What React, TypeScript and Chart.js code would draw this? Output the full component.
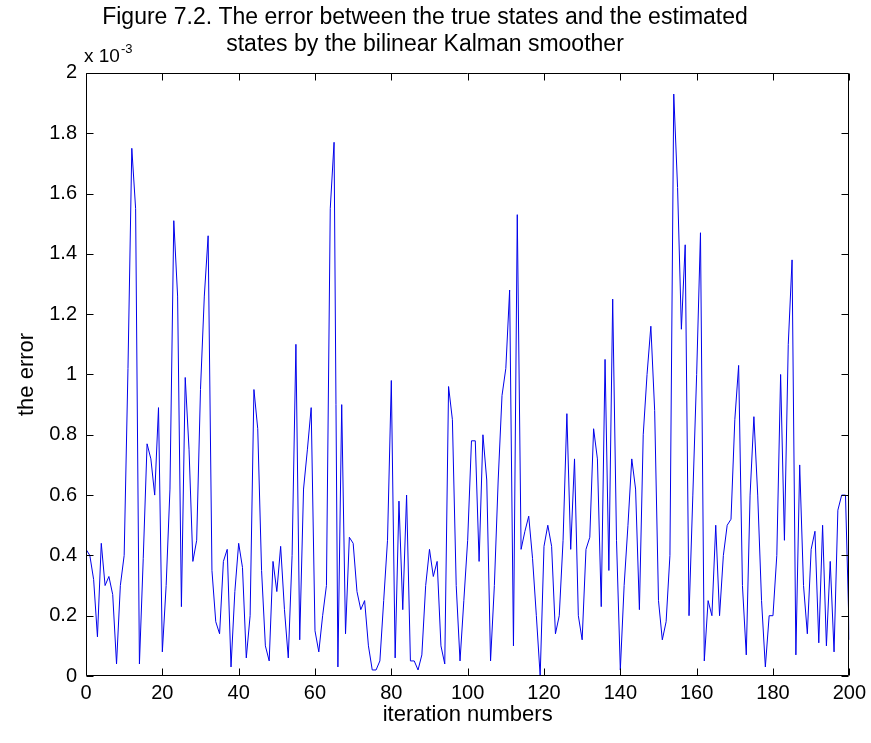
import React, { useEffect, useRef } from "react";
import { Chart, registerables } from "chart.js";

Chart.register(...registerables);

// Error values in units of 1e-3, one per iteration 0..200
const errorValues: number[] = [
  0.42, 0.40, 0.32, 0.13, 0.44, 0.30, 0.33, 0.27, 0.04, 0.30,
  0.40, 1.02, 1.75, 1.55, 0.04, 0.39, 0.77, 0.72, 0.60, 0.89,
  0.08, 0.30, 0.62, 1.51, 1.26, 0.23, 0.99, 0.75, 0.38, 0.45,
  0.95, 1.26, 1.46, 0.35, 0.18, 0.14, 0.38, 0.42, 0.03, 0.28,
  0.44, 0.36, 0.06, 0.20, 0.95, 0.82, 0.35, 0.10, 0.05, 0.38,
  0.28, 0.43, 0.22, 0.06, 0.40, 1.10, 0.12, 0.62, 0.75, 0.89,
  0.15, 0.08, 0.20, 0.30, 1.55, 1.77, 0.03, 0.90, 0.14, 0.46,
  0.44, 0.28, 0.22, 0.25, 0.10, 0.02, 0.02, 0.05, 0.25, 0.45,
  0.98, 0.06, 0.58, 0.22, 0.60, 0.05, 0.05, 0.02, 0.07, 0.30,
  0.42, 0.33, 0.38, 0.10, 0.04, 0.96, 0.85, 0.30, 0.05, 0.25,
  0.45, 0.78, 0.78, 0.38, 0.80, 0.65, 0.05, 0.30, 0.65, 0.93,
  1.02, 1.28, 0.10, 1.53, 0.42, 0.48, 0.53, 0.39, 0.20, 0.00,
  0.43, 0.50, 0.43, 0.14, 0.20, 0.45, 0.87, 0.42, 0.72, 0.20,
  0.12, 0.42, 0.46, 0.82, 0.72, 0.23, 1.05, 0.35, 1.25, 0.45,
  0.02, 0.30, 0.50, 0.72, 0.62, 0.22, 0.80, 1.00, 1.16, 0.88,
  0.25, 0.12, 0.18, 0.40, 1.93, 1.62, 1.15, 1.43, 0.20, 0.60,
  1.00, 1.47, 0.05, 0.25, 0.20, 0.50, 0.20, 0.40, 0.50, 0.52,
  0.85, 1.03, 0.30, 0.07, 0.60, 0.86, 0.60, 0.25, 0.03, 0.20,
  0.20, 0.40, 1.00, 0.45, 1.10, 1.38, 0.07, 0.70, 0.30, 0.14,
  0.42, 0.48, 0.11, 0.50, 0.10, 0.38, 0.08, 0.55, 0.60, 0.60,
  0.12,
];

const xTicks: number[] = [0, 20, 40, 60, 80, 100, 120, 140, 160, 180, 200];
const yTicks: number[] = [0, 0.2, 0.4, 0.6, 0.8, 1, 1.2, 1.4, 1.6, 1.8, 2];

const titleLines: string[] = [
  "Figure 7.2. The error between the true states and the estimated",
  "states by the bilinear Kalman smoother",
];
const xLabel = "iteration numbers";
const yLabel = "the error";
const exponentBase = "x 10";
const exponentPower = "-3";

const FONT = '"Liberation Sans", Arial, Helvetica, sans-serif';

const boxPlugin = {
  id: "matlabBox",
  afterDatasetsDraw(chart: any) {
    const { ctx, chartArea, scales } = chart;
    const xs = scales.x;
    const ys = scales.y;
    const L = Math.round(chartArea.left) + 0.5;
    const R = Math.round(chartArea.right) - 0.5;
    const T = Math.round(chartArea.top) + 0.5;
    const B = Math.round(chartArea.bottom) - 0.5;
    const len = 7;
    ctx.save();
    ctx.strokeStyle = "#000";
    ctx.lineWidth = 1;
    ctx.beginPath();
    ctx.rect(L, T, R - L, B - T);
    xTicks.forEach((v) => {
      const px = Math.round(xs.getPixelForValue(v)) + 0.5;
      ctx.moveTo(px, B);
      ctx.lineTo(px, B - len);
      ctx.moveTo(px, T);
      ctx.lineTo(px, T + len);
    });
    yTicks.forEach((v) => {
      const py = Math.round(ys.getPixelForValue(v)) + 0.5;
      ctx.moveTo(L, py);
      ctx.lineTo(L + len, py);
      ctx.moveTo(R, py);
      ctx.lineTo(R - len, py);
    });
    ctx.stroke();

    ctx.fillStyle = "#000";
    ctx.textBaseline = "alphabetic";
    ctx.textAlign = "left";
    ctx.font = `19px ${FONT}`;
    const baseX = chartArea.left - 2;
    const baseY = chartArea.top - 11;
    ctx.fillText(exponentBase, baseX, baseY);
    const w = ctx.measureText(exponentBase).width;
    ctx.font = `13px ${FONT}`;
    ctx.fillText(exponentPower, baseX + w + 1, baseY - 9);
    ctx.restore();
  },
};

export default function App() {
  const canvasRef = useRef<HTMLCanvasElement | null>(null);

  useEffect(() => {
    document.body.style.margin = "0";
    document.body.style.background = "#ffffff";
    const canvas = canvasRef.current;
    if (!canvas) return;
    const points = errorValues.map((v, i) => ({ x: i, y: v }));
    const chart = new Chart(canvas, {
      type: "line",
      data: {
        datasets: [
          {
            data: points,
            borderColor: "rgb(0,0,235)",
            borderWidth: 1,
            pointRadius: 0,
            tension: 0,
            fill: false,
          },
        ],
      },
      options: {
        responsive: false,
        animation: false,
        devicePixelRatio: 1,
        layout: { padding: { left: 0, right: 21, top: 0, bottom: 0 } },
        plugins: {
          legend: { display: false },
          tooltip: { enabled: false },
          title: {
            display: true,
            text: titleLines,
            color: "#000",
            font: { family: FONT, size: 23, weight: "normal", lineHeight: 1.14 },
            padding: { top: 5, bottom: 15.5 },
          },
        },
        scales: {
          x: {
            type: "linear",
            min: 0,
            max: 200,
            afterBuildTicks: (scale: any) => {
              scale.ticks = xTicks.map((v) => ({ value: v }));
            },
            afterFit: (scale: any) => {
              scale.height = 67;
            },
            grid: { display: false, drawTicks: false },
            border: { display: false },
            ticks: {
              color: "#000",
              font: { family: FONT, size: 20 },
              padding: 5,
              maxRotation: 0,
              autoSkip: false,
            },
            title: {
              display: true,
              text: xLabel,
              color: "#000",
              font: { family: FONT, size: 22 },
              padding: { top: 0, bottom: 15 },
            },
          },
          y: {
            type: "linear",
            min: 0,
            max: 2,
            afterBuildTicks: (scale: any) => {
              scale.ticks = yTicks.map((v) => ({ value: v }));
            },
            afterFit: (scale: any) => {
              scale.width = 86;
            },
            grid: { display: false, drawTicks: false },
            border: { display: false },
            ticks: {
              color: "#000",
              font: { family: FONT, size: 20 },
              padding: 9,
              autoSkip: false,
              callback: (v: any) => {
                const n = Number(v);
                return Math.abs(n - Math.round(n)) < 1e-9 ? String(Math.round(n)) : n.toFixed(1);
              },
            },
            title: {
              display: true,
              text: yLabel,
              color: "#000",
              font: { family: FONT, size: 22 },
              padding: { top: 14, bottom: 0 },
            },
          },
        },
      },
      plugins: [boxPlugin],
    });
    return () => chart.destroy();
  }, []);

  return (
    <div style={{ width: 871, height: 743, background: "#fff" }}>
      <canvas ref={canvasRef} width={871} height={743} style={{ display: "block" }} />
    </div>
  );
}
